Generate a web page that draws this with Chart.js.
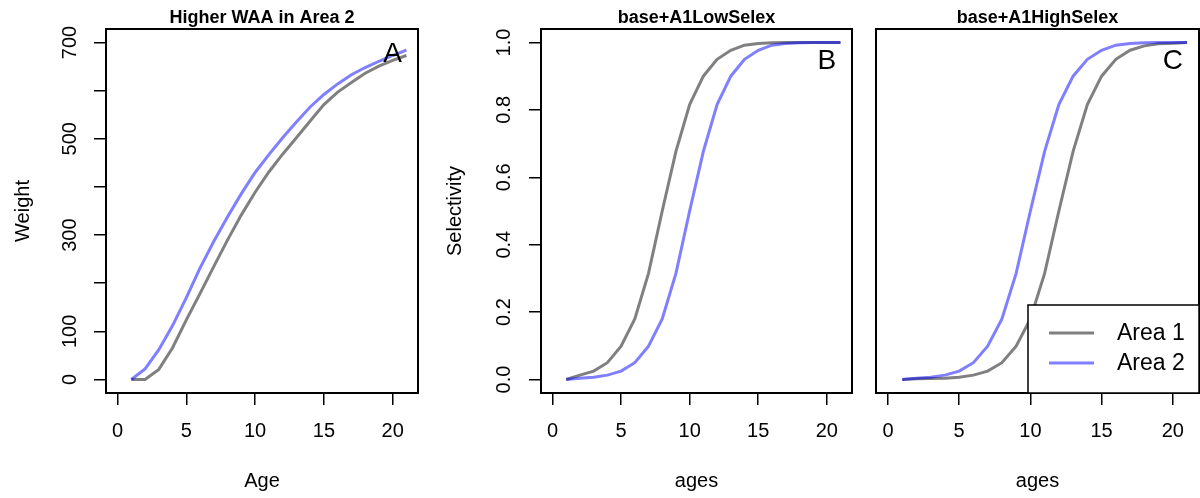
<!DOCTYPE html>
<html>
<head>
<meta charset="utf-8">
<script src="https://cdn.jsdelivr.net/npm/chart.js@4.4.1/dist/chart.umd.min.js"></script>
<style>
  html, body { margin: 0; padding: 0; background: #fff; }
  #wrap { position: relative; width: 1200px; height: 498px; }
  .panel { position: absolute; top: 0; height: 498px; }
</style>
</head>
<body>
<div id="wrap">
  <div class="panel" style="left:0;width:430px"><canvas id="waaChart" width="430" height="498"></canvas></div>
  <div class="panel" style="left:430px;width:432px"><canvas id="lowChart" width="432" height="498"></canvas></div>
  <div class="panel" style="left:862px;width:338px"><canvas id="highChart" width="338" height="498"></canvas></div>
</div>
<script>
// ---- data ----
const ages = [1, 2, 3, 4, 5, 6, 7, 8, 9, 10, 11, 12, 13, 14, 15, 16, 17, 18, 19, 20, 21];

const weightArea1 = [0, 0, 21, 66, 124, 179, 235, 290, 342, 389, 431, 468, 502, 537, 571, 597, 617, 636, 651, 663, 673];
const weightArea2 = [0, 22, 62, 112, 170, 232, 287, 338, 386, 430, 467, 502, 535, 566, 592, 614, 633, 648, 661, 673, 684];

const lowSelArea1 = [0, 0.013, 0.025, 0.05, 0.099, 0.18, 0.315, 0.5, 0.677, 0.816, 0.9, 0.95, 0.977, 0.992, 0.997, 0.999, 1, 1, 1, 1, 1];
const lowSelArea2 = [0, 0.004, 0.007, 0.013, 0.025, 0.05, 0.099, 0.18, 0.315, 0.5, 0.677, 0.816, 0.9, 0.95, 0.977, 0.992, 0.997, 0.999, 1, 1, 1];

const highSelArea1 = [0, 0.002, 0.003, 0.004, 0.007, 0.013, 0.025, 0.05, 0.099, 0.18, 0.315, 0.5, 0.677, 0.816, 0.9, 0.95, 0.977, 0.99, 0.996, 0.998, 1];
const highSelArea2 = [0, 0.004, 0.007, 0.013, 0.025, 0.05, 0.099, 0.18, 0.315, 0.5, 0.677, 0.816, 0.9, 0.95, 0.977, 0.992, 0.997, 0.999, 1, 1, 1];

const xTicks = [0, 5, 10, 15, 20];
const weightTicks = [0, 100, 200, 300, 400, 500, 600, 700];
const weightTickLabels = ['0', '100', '', '300', '', '500', '', '700'];
const selTicks = [0, 0.2, 0.4, 0.6, 0.8, 1.0];
const selTickLabels = ['0.0', '0.2', '0.4', '0.6', '0.8', '1.0'];

const seriesNames = ['Area 1', 'Area 2'];

// ---- styling ----
const FONT = "'Liberation Sans', Arial, Helvetica, sans-serif";
Chart.defaults.font.family = FONT;
Chart.defaults.color = '#000';

const GREY = '#808080';
const BLUE = 'rgba(0,0,255,0.5)';

const toPoints = vals => ages.map((a, i) => ({ x: a, y: vals[i] }));

// R-like decorations: main title, panel letter, box and legend
const rDecor = {
    id: 'rDecor',
    afterDatasetsDraw(chart, args, opts) {
        const { ctx, chartArea: a } = chart;
        ctx.save();
        ctx.fillStyle = '#000';
        ctx.textAlign = 'center';
        ctx.textBaseline = 'middle';

        ctx.font = 'bold 18px ' + FONT;
        ctx.fillText(opts.title, (a.left + a.right) / 2, 18);

        ctx.font = '28px ' + FONT;
        ctx.fillText(opts.letter,
            chart.scales.x.getPixelForValue(opts.letterAt[0]),
            chart.scales.y.getPixelForValue(opts.letterAt[1]));

        ctx.lineWidth = 2;
        ctx.strokeStyle = '#000';
        ctx.strokeRect(a.left, a.top, a.right - a.left, a.bottom - a.top);

        if (opts.legend) {
            const w = 171, h = 88;
            const lx = a.right - w, ly = a.bottom - h;
            ctx.fillStyle = '#fff';
            ctx.fillRect(lx, ly, w, h);
            ctx.lineWidth = 1.5;
            ctx.strokeRect(lx, ly, w, h);
            ctx.font = '23px ' + FONT;
            ctx.textAlign = 'left';
            chart.data.datasets.forEach((ds, i) => {
                const y = ly + 28 + i * 30;
                ctx.strokeStyle = ds.borderColor;
                ctx.lineWidth = 3;
                ctx.beginPath();
                ctx.moveTo(lx + 21, y);
                ctx.lineTo(lx + 66, y);
                ctx.stroke();
                ctx.fillStyle = '#000';
                ctx.fillText(ds.label, lx + 89, y + 1);
            });
        }
        ctx.restore();
    }
};

const tickGrid = { drawOnChartArea: false, drawTicks: true, tickLength: 12, color: '#000', tickColor: '#000', lineWidth: 1.5 };

function makeDatasets(a1, a2) {
    return [
        { label: seriesNames[0], data: toPoints(a1), borderColor: GREY, borderWidth: 3, pointRadius: 0, tension: 0, order: 1 },
        { label: seriesNames[1], data: toPoints(a2), borderColor: BLUE, borderWidth: 3, pointRadius: 0, tension: 0, order: 0 }
    ];
}

function xScale(title) {
    return {
        type: 'linear', min: -0.84, max: 21.84,
        afterBuildTicks: s => { s.ticks = xTicks.map(v => ({ value: v })); },
        afterFit: s => { s.height = 105; },
        ticks: { autoSkip: false, maxRotation: 0, padding: 14.5, font: { size: 20 } },
        grid: tickGrid,
        border: { display: false },
        title: { display: true, text: title, font: { size: 20 }, padding: { top: 0, bottom: 4.5 } }
    };
}

function yScale(cfg) {
    if (!cfg.show) {
        return { type: 'linear', min: cfg.min, max: cfg.max, display: false };
    }
    return {
        type: 'linear', min: cfg.min, max: cfg.max,
        afterBuildTicks: s => { s.ticks = cfg.ticks.map(v => ({ value: v })); },
        afterFit: s => { s.width = cfg.width; },
        ticks: {
            autoSkip: false, minRotation: 90, maxRotation: 90, crossAlign: 'center',
            padding: cfg.pad, font: { size: 20 },
            callback: v => cfg.labels[cfg.ticks.indexOf(v)]
        },
        grid: tickGrid,
        border: { display: false },
        title: { display: true, text: cfg.title, font: { size: 20 }, padding: { top: cfg.titlePad, bottom: 0 } }
    };
}

function drawPanel(canvasId, datasets, scales, padding, decor) {
    new Chart(document.getElementById(canvasId), {
        type: 'line',
        data: { datasets },
        options: {
            responsive: false,
            animation: false,
            layout: { padding },
            scales,
            plugins: { legend: { display: false }, tooltip: { enabled: false }, rDecor: decor }
        },
        plugins: [rDecor]
    });
}

drawPanel('waaChart', makeDatasets(weightArea1, weightArea2), {
    x: xScale('Age'),
    y: yScale({ show: true, min: -28, max: 728, ticks: weightTicks, labels: weightTickLabels, width: 106, pad: 6.8, title: 'Weight', titlePad: 11.5 })
}, { left: 0, right: 12, top: 29, bottom: 0 },
{ title: 'Higher WAA in Area 2', letter: 'A', letterAt: [20, 676] });

drawPanel('lowChart', makeDatasets(lowSelArea1, lowSelArea2), {
    x: xScale('ages'),
    y: yScale({ show: true, min: -0.04, max: 1.04, ticks: selTicks, labels: selTickLabels, width: 111, pad: 11.1, title: 'Selectivity', titlePad: 13 })
}, { left: 0, right: 10, top: 29, bottom: 0 },
{ title: 'base+A1LowSelex', letter: 'B', letterAt: [20, 0.943] });

drawPanel('highChart', makeDatasets(highSelArea1, highSelArea2), {
    x: xScale('ages'),
    y: yScale({ show: false, min: -0.04, max: 1.04 })
}, { left: 14, right: 1, top: 29, bottom: 0 },
{ title: 'base+A1HighSelex', letter: 'C', letterAt: [20, 0.943], legend: true });
</script>
</body>
</html>
